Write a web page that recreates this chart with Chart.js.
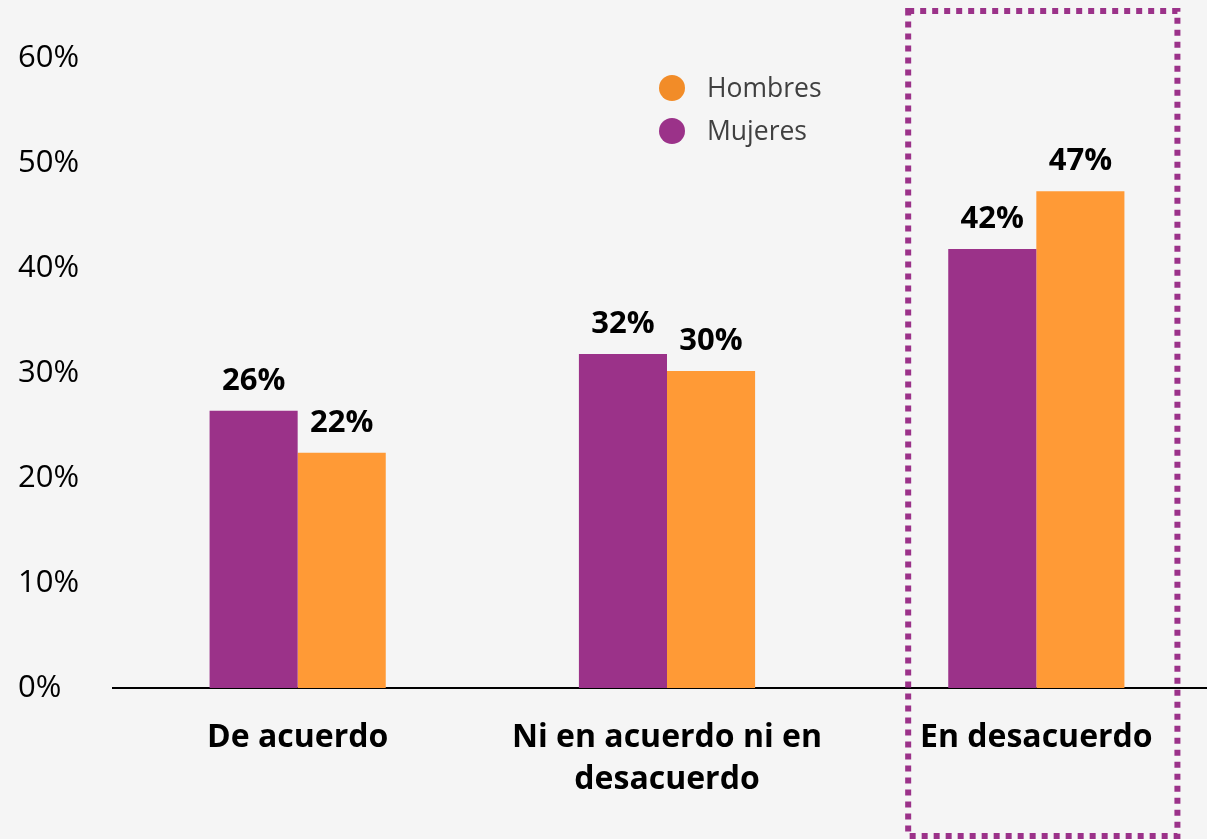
<!DOCTYPE html>
<html>
<head>
<meta charset="utf-8">
<script src="https://cdn.jsdelivr.net/npm/chart.js@4/dist/chart.umd.min.js"></script>
<style>
  html, body { margin: 0; padding: 0; background: #f5f5f5; overflow: hidden; }
  .canvas-container { width: 1222px; height: 839px; }
</style>
</head>
<body>
<div class="canvas-container">
  <canvas id="chart"></canvas>
</div>
<script>
const categories = ['De acuerdo', ['Ni en acuerdo ni en', 'desacuerdo'], 'En desacuerdo'];
const mujeres = [26.4, 31.8, 41.8];
const hombres = [22.4, 30.2, 47.3];
const yTicks = [0, 10, 20, 30, 40, 50, 60];

const purple = '#9b3289';
const orange = '#ff9a36';

// value labels above each bar
const valueLabels = {
    id: 'valueLabels',
    afterDatasetsDraw(chart) {
        const ctx = chart.ctx;
        ctx.save();
        ctx.font = 'bold 31px "Open Sans"';
        ctx.fillStyle = '#000';
        ctx.textAlign = 'center';
        ctx.textBaseline = 'middle';
        chart.data.datasets.forEach((ds, i) => {
            chart.getDatasetMeta(i).data.forEach((bar, j) => {
                ctx.fillText(Math.round(ds.data[j]) + '%', bar.x, bar.y - 30);
            });
        });
        ctx.restore();
    }
};

// dotted frame around the last category + round legend
const extras = {
    id: 'extras',
    afterDraw(chart) {
        const ctx = chart.ctx;
        const x = chart.scales.x;
        const catW = x.width / chart.data.labels.length;
        const cx = x.getPixelForValue(2);
        ctx.save();
        ctx.strokeStyle = purple;
        ctx.lineWidth = 6;
        ctx.setLineDash([6, 6]);
        ctx.strokeRect(cx - catW * 0.347, 11, catW * 0.729, 825);
        ctx.setLineDash([]);

        const items = [
            { text: 'Hombres', color: '#f28c28' },
            { text: 'Mujeres', color: purple }
        ];
        ctx.font = '26.5px "Open Sans"';
        ctx.textBaseline = 'middle';
        ctx.textAlign = 'left';
        items.forEach((it, k) => {
            const y = 88 + k * 43;
            ctx.fillStyle = it.color;
            ctx.beginPath();
            ctx.arc(672, y, 13, 0, Math.PI * 2);
            ctx.fill();
            ctx.fillStyle = '#404040';
            ctx.fillText(it.text, 707, y + 1);
        });
        ctx.restore();
    }
};

new Chart(document.getElementById('chart'), {
    type: 'bar',
    data: {
        labels: categories,
        datasets: [
            { label: 'Mujeres', data: mujeres, backgroundColor: purple },
            { label: 'Hombres', data: hombres, backgroundColor: orange }
        ]
    },
    options: {
        responsive: true,
        maintainAspectRatio: false,
        animation: false,
        categoryPercentage: 0.477,
        barPercentage: 1,
        layout: { padding: { left: 18, right: 1, top: 58, bottom: 0 } },
        plugins: {
            legend: { display: false },
            tooltip: { enabled: false }
        },
        scales: {
            x: {
                afterFit(scale) { scale.height = 151; },
                grid: { display: false, drawTicks: false },
                border: { color: '#000', width: 2 },
                ticks: {
                    color: '#000',
                    padding: 29,
                    font: { family: 'Open Sans', size: 32, weight: 'bold', lineHeight: 1.31 },
                    maxRotation: 0
                }
            },
            y: {
                min: 0,
                max: 60,
                afterFit(scale) { scale.width = 95; },
                afterBuildTicks(scale) { scale.ticks = yTicks.map(v => ({ value: v })); },
                grid: { display: false, drawTicks: false },
                border: { display: false },
                ticks: {
                    color: '#000',
                    crossAlign: 'far',
                    padding: 0,
                    font: { family: 'Open Sans', size: 31 },
                    callback: v => v + '%'
                }
            }
        }
    },
    plugins: [valueLabels, extras]
});
</script>
</body>
</html>
